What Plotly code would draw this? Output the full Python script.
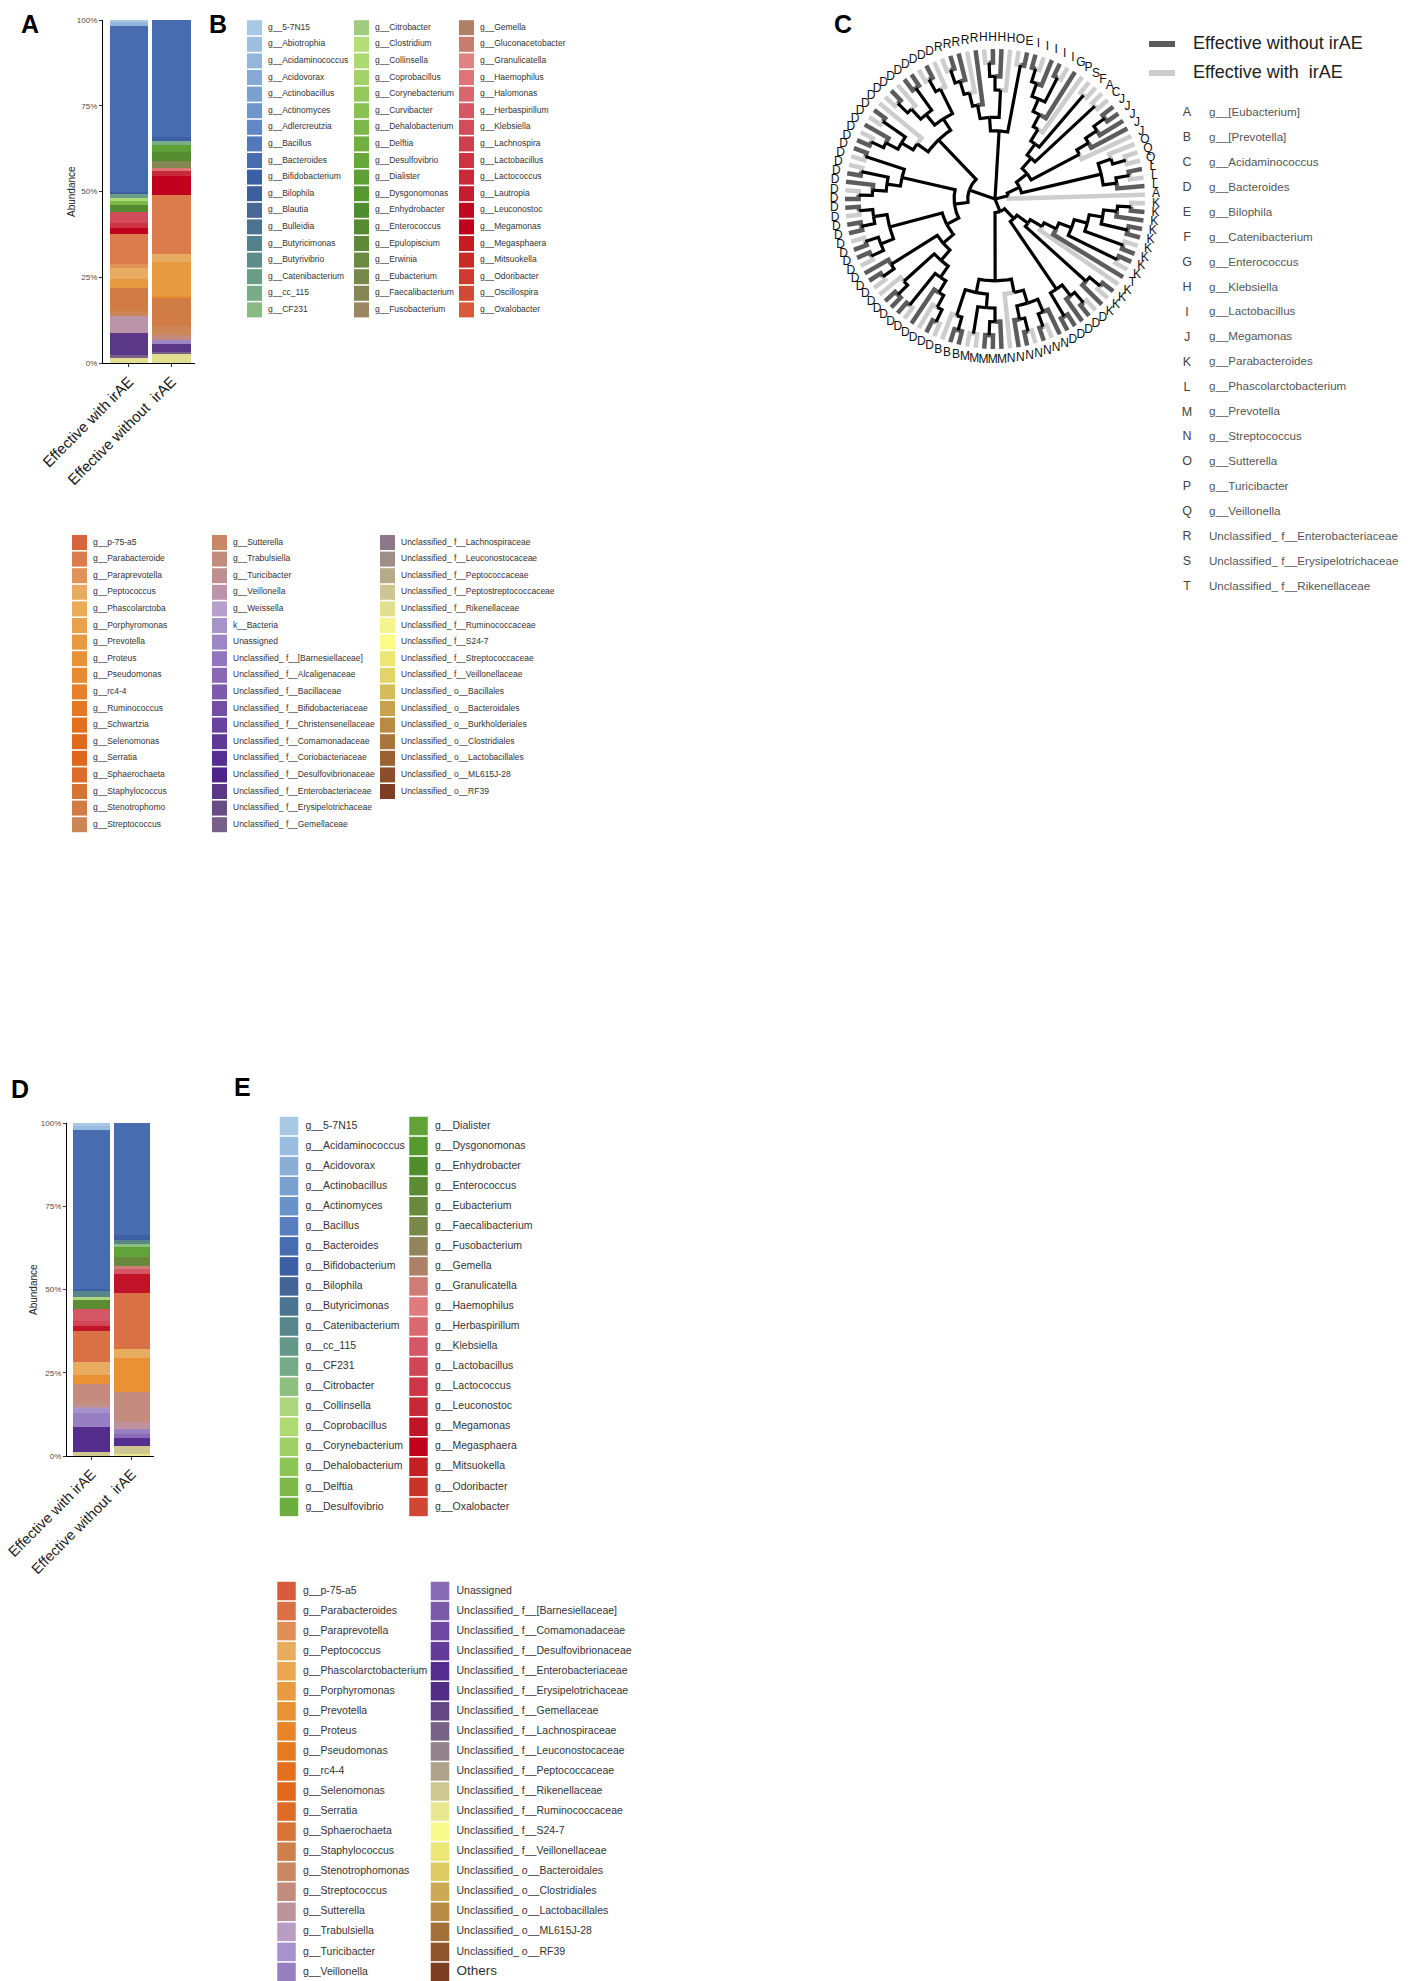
import math
import plotly.graph_objects as go

# the page puts an 8px body margin around the figure; positions below are page pixels
PAGE_W, PAGE_H, OFF = 1417, 1981, 8
W, H = PAGE_W - OFF, PAGE_H - OFF
FONT = "Liberation Sans, Arial, sans-serif"

groups = ["Effective with irAE", "Effective without\u00a0 irAE"]

# ---- panel B legend (order used by the stacked bars in panel A)
taxa_b_upper = [
    "g__5-7N15", "g__Abiotrophia", "g__Acidaminococcus", "g__Acidovorax", "g__Actinobacillus",
    "g__Actinomyces", "g__Adlercreutzia", "g__Bacillus", "g__Bacteroides", "g__Bifidobacterium",
    "g__Bilophila", "g__Blautia", "g__Bulleidia", "g__Butyricimonas", "g__Butyrivibrio",
    "g__Catenibacterium", "g__cc_115", "g__CF231",
    "g__Citrobacter", "g__Clostridium", "g__Collinsella", "g__Coprobacillus", "g__Corynebacterium",
    "g__Curvibacter", "g__Dehalobacterium", "g__Delftia", "g__Desulfovibrio", "g__Dialister",
    "g__Dysgonomonas", "g__Enhydrobacter", "g__Enterococcus", "g__Epulopiscium", "g__Erwinia",
    "g__Eubacterium", "g__Faecalibacterium", "g__Fusobacterium",
    "g__Gemella", "g__Gluconacetobacter", "g__Granulicatella", "g__Haemophilus", "g__Halomonas",
    "g__Herbaspirillum", "g__Klebsiella", "g__Lachnospira", "g__Lactobacillus", "g__Lactococcus",
    "g__Lautropia", "g__Leuconostoc", "g__Megamonas", "g__Megasphaera", "g__Mitsuokella",
    "g__Odoribacter", "g__Oscillospira", "g__Oxalobacter",
]
taxa_b_lower = [
    "g__p-75-a5", "g__Parabacteroide", "g__Paraprevotella", "g__Peptococcus", "g__Phascolarctoba",
    "g__Porphyromonas", "g__Prevotella", "g__Proteus", "g__Pseudomonas", "g__rc4-4",
    "g__Ruminococcus", "g__Schwartzia", "g__Selenomonas", "g__Serratia", "g__Sphaerochaeta",
    "g__Staphylococcus", "g__Stenotrophomo", "g__Streptococcus",
    "g__Sutterella", "g__Trabulsiella", "g__Turicibacter", "g__Veillonella", "g__Weissella",
    "k__Bacteria", "Unassigned", "Unclassified_ f__[Barnesiellaceae]", "Unclassified_ f__Alcaligenaceae",
    "Unclassified_ f__Bacillaceae", "Unclassified_ f__Bifidobacteriaceae",
    "Unclassified_ f__Christensenellaceae", "Unclassified_ f__Comamonadaceae",
    "Unclassified_ f__Coriobacteriaceae", "Unclassified_ f__Desulfovibrionaceae",
    "Unclassified_ f__Enterobacteriaceae", "Unclassified_ f__Erysipelotrichaceae",
    "Unclassified_ f__Gemellaceae",
    "Unclassified_ f__Lachnospiraceae", "Unclassified_ f__Leuconostocaceae",
    "Unclassified_ f__Peptococcaceae", "Unclassified_ f__Peptostreptococcaceae",
    "Unclassified_ f__Rikenellaceae", "Unclassified_ f__Ruminococcaceae", "Unclassified_ f__S24-7",
    "Unclassified_ f__Streptococcaceae", "Unclassified_ f__Veillonellaceae",
    "Unclassified_ o__Bacillales", "Unclassified_ o__Bacteroidales", "Unclassified_ o__Burkholderiales",
    "Unclassified_ o__Clostridiales", "Unclassified_ o__Lactobacillales", "Unclassified_ o__ML615J-28",
    "Unclassified_ o__RF39",
]
palette_b = [
    "#a8c8e4", "#9dbfe0", "#94b6db", "#86aad4", "#7aa0d0", "#6d96cb", "#5f88c4", "#5479bb", "#486cb0",
    "#3c60a6", "#3d5f9c", "#466892", "#4c7390", "#54828c", "#5e8e8a", "#6a9c88", "#78ab86", "#88bb82",
    "#a0cc7e", "#b5dd7a", "#acda72", "#a2d268", "#94ca5c", "#88c252", "#7cb84a", "#70b042", "#66a83c",
    "#5ea036", "#569830", "#4e8e2c", "#568c30", "#5e8a36", "#6a8a3e", "#768948", "#868654", "#9a8660",
    "#ae8068", "#c87c70", "#e08284", "#de7478", "#da6670", "#d65866", "#d24c5c", "#ce4050", "#cc3444",
    "#c82a3a", "#c41e30", "#c00a22", "#c0001c", "#c41c22", "#c82a26", "#ce3a2c", "#d24a34", "#d85a3a",
    "#d8643e", "#dc7c4c", "#e09258", "#e8ac60", "#eaaa56", "#eaa24a", "#e89a40", "#e89236", "#e88a2e",
    "#e88028", "#e67822", "#e4701e", "#e2681a", "#e0661c", "#dc6c28", "#d67434", "#d07c44", "#cc8656",
    "#c88866", "#c48c7c", "#c09090", "#bc94aa", "#b8a0cc", "#a894cc", "#9c86c6", "#9076bc", "#8868b4",
    "#7e5aac", "#744ea4", "#6a42a0", "#603898", "#562e90", "#4e2488", "#5a3886", "#684c86", "#786088",
    "#8c7888", "#a08e88", "#b6aa88", "#cdc690", "#e2e090", "#f4f490", "#fcfc8a", "#ece676", "#e2d468",
    "#d6bc5c", "#c8a050", "#b88a44", "#a8763c", "#9a6232", "#8c4e2a", "#7e3e22",
]

# ---- panel A abundance (%)
taxa_a = [
    "g__5-7N15", "g__Acidaminococcus", "g__Bacteroides", "g__Bifidobacterium", "g__Bilophila",
    "g__Catenibacterium", "g__cc_115", "g__Collinsella", "g__Dehalobacterium", "g__Dialister",
    "g__Enterococcus", "g__Faecalibacterium", "g__Haemophilus", "g__Klebsiella", "g__Lactobacillus",
    "g__Lactococcus", "g__Megamonas", "g__Parabacteroide", "g__Paraprevotella", "g__Peptococcus",
    "g__Prevotella", "g__Pseudomonas", "g__Stenotrophomo", "g__Streptococcus", "g__Trabulsiella",
    "g__Veillonella", "Unassigned", "Unclassified_ f__Enterobacteriaceae", "Unclassified_ f__Gemellaceae",
    "Unclassified_ f__Rikenellaceae",
]
a_with = [0.6, 1.15, 48.35, 0, 0.7, 1.2, 0, 0.8, 1.0, 0, 2.1, 0, 0, 3.4, 1.4, 0, 1.8, 8.7, 1.0, 3.2,
          2.6, 0, 6.8, 1.5, 0, 4.9, 0, 6.6, 0.7, 1.5]
a_without = [0, 0, 34.1, 1.3, 0, 0, 1.0, 0, 0, 2.2, 2.6, 1.9, 1.0, 0, 0, 1.3, 5.5, 17.2, 0, 2.4,
             10.0, 0.5, 8.3, 2.4, 1.5, 0, 1.2, 2.4, 0.3, 2.9]

# ---- panel E legend
taxa_e_upper = [
    "g__5-7N15", "g__Acidaminococcus", "g__Acidovorax", "g__Actinobacillus", "g__Actinomyces",
    "g__Bacillus", "g__Bacteroides", "g__Bifidobacterium", "g__Bilophila", "g__Butyricimonas",
    "g__Catenibacterium", "g__cc_115", "g__CF231", "g__Citrobacter", "g__Collinsella",
    "g__Coprobacillus", "g__Corynebacterium", "g__Dehalobacterium", "g__Delftia", "g__Desulfovibrio",
    "g__Dialister", "g__Dysgonomonas", "g__Enhydrobacter", "g__Enterococcus", "g__Eubacterium",
    "g__Faecalibacterium", "g__Fusobacterium", "g__Gemella", "g__Granulicatella", "g__Haemophilus",
    "g__Herbaspirillum", "g__Klebsiella", "g__Lactobacillus", "g__Lactococcus", "g__Leuconostoc",
    "g__Megamonas", "g__Megasphaera", "g__Mitsuokella", "g__Odoribacter", "g__Oxalobacter",
]
taxa_e_lower = [
    "g__p-75-a5", "g__Parabacteroides", "g__Paraprevotella", "g__Peptococcus",
    "g__Phascolarctobacterium", "g__Porphyromonas", "g__Prevotella", "g__Proteus", "g__Pseudomonas",
    "g__rc4-4", "g__Selenomonas", "g__Serratia", "g__Sphaerochaeta", "g__Staphylococcus",
    "g__Stenotrophomonas", "g__Streptococcus", "g__Sutterella", "g__Trabulsiella", "g__Turicibacter",
    "g__Veillonella",
    "Unassigned", "Unclassified_ f__[Barnesiellaceae]", "Unclassified_ f__Comamonadaceae",
    "Unclassified_ f__Desulfovibrionaceae", "Unclassified_ f__Enterobacteriaceae",
    "Unclassified_ f__Erysipelotrichaceae", "Unclassified_ f__Gemellaceae",
    "Unclassified_ f__Lachnospiraceae", "Unclassified_ f__Leuconostocaceae",
    "Unclassified_ f__Peptococcaceae", "Unclassified_ f__Rikenellaceae",
    "Unclassified_ f__Ruminococcaceae", "Unclassified_ f__S24-7", "Unclassified_ f__Veillonellaceae",
    "Unclassified_ o__Bacteroidales", "Unclassified_ o__Clostridiales",
    "Unclassified_ o__Lactobacillales", "Unclassified_ o__ML615J-28", "Unclassified_ o__RF39", "Others",
]

# ---- panel D abundance (%)
taxa_d = [
    "g__5-7N15", "g__Acidaminococcus", "g__Bacteroides", "g__Bifidobacterium", "g__Catenibacterium",
    "g__Citrobacter", "g__Collinsella", "g__Dialister", "g__Enterococcus", "g__Eubacterium",
    "g__Granulicatella", "g__Klebsiella", "g__Lactobacillus", "g__Megamonas", "g__Parabacteroides",
    "g__Peptococcus", "g__Prevotella", "g__Streptococcus", "g__Sutterella", "g__Turicibacter",
    "g__Veillonella", "Unassigned", "Unclassified_ f__Enterobacteriaceae",
    "Unclassified_ f__Rikenellaceae", "Unclassified_ f__Ruminococcaceae",
]
d_with = [1.0, 1.0, 47.7, 0.8, 1.7, 0, 1.0, 0, 2.8, 0, 0, 3.4, 1.6, 1.4, 9.3, 4.0, 2.7, 6.3, 1.0,
          1.5, 4.0, 0, 7.5, 1.3, 0]
d_without = [0, 0, 33.7, 1.5, 1.2, 0.8, 0, 3.0, 0, 2.8, 0.7, 1.7, 0, 5.6, 17.0, 2.7, 10.0, 9.0, 2.3,
             0, 1.4, 1.3, 2.3, 2.4, 0.6]

# ---- panel C: tree (tips = letter + d/l for without/with irAE), legend
tree_letters = list("ABCDEFGHIJKLMNOPQRST")
tree_names = [
    "g__[Eubacterium]", "g__[Prevotella]", "g__Acidaminococcus", "g__Bacteroides", "g__Bilophila",
    "g__Catenibacterium", "g__Enterococcus", "g__Klebsiella", "g__Lactobacillus", "g__Megamonas",
    "g__Parabacteroides", "g__Phascolarctobacterium", "g__Prevotella", "g__Streptococcus",
    "g__Sutterella", "g__Turicibacter", "g__Veillonella", "Unclassified_ f__Enterobacteriaceae",
    "Unclassified_ f__Erysipelotrichaceae", "Unclassified_ f__Rikenellaceae",
]
tree_groups = ["Effective without irAE", "Effective with\u00a0 irAE"]

clade_ur = ["Al", [[["Ld", ["Ll", "Ld"]], [["Ql", "Ql"], "Ol"]],
                   [["Jl", ["Jd", ["Jd", ["Jd", "Jd"]]]],
                    [["Cl", "Al"], [["Fl", "Sl"], ["Pl", ["Gd", [["Il", "Id"], ["Id", ["Il", "Id"]]]]]]]]]]
clade_top = [["Ed", "Ol"], [["Hl", ["Hd", ["Hd", "Hl"]]], ["Rd", ["Rl", ["Rd", ["Rd", "Rl"]]]]]]
clade_d1 = [["Dl", ["Dd", "Dl"]], [["Dd", "Dd"], ["Dl", ["Dd", "Dl"]]]]
clade_d2 = ["Dl", [["Dd", "Dl"], ["Dd", ["Dl", "Dd"]]]]
clade_d3 = [["Dd", "Dl"], [["Dl", "Dd"], ["Dd", ["Dl", "Dd"]]]]
clade_d4 = [[["Dd", "Dl"], ["Dd", "Dd"]], [["Dl", "Dd"], ["Dd", "Dl"]]]
clade_d5 = [["Dd", ["Dd", "Dl"]], [["Dl", ["Dd", "Dd"]], [["Dd", "Dl"], ["Dd", ["Dl", ["Dd", "Dl"]]]]]]
clade_bm = [["Bl", ["Bd", "Bd"]], [["Ml", "Ml"], [["Md", "Md"], "Md"]]]
clade_n = ["Nl", [["Nd", ["Nd", "Nl"]], [["Nd", "Nl"], "Nd"]]]
clade_db = [["Dd", "Dd"], ["Dd", ["Dd", "Dl"]]]
clade_k = [["Kd", ["Kl", "Kd"]], ["Kl", ["Td", [["Kl", "Kd"], [["Kd", "Kl"], [["Kd", "Kd"], ["Kd", ["Kd", "Kl"]]]]]]]]
tree = [clade_ur, clade_top, [[clade_d1, clade_d2], [clade_d3, [clade_d4, clade_d5]]],
        [[clade_bm, clade_n], [clade_db, clade_k]]]


def px(x):
    return (x - OFF) / W


def py(y):
    return 1 - (y - OFF) / H


def hex_rgb(h):
    return tuple(int(h[i:i + 2], 16) for i in (1, 3, 5))


def resample(colors, n):
    out = []
    for i in range(n):
        t = i * (len(colors) - 1) / (n - 1)
        j = min(int(t), len(colors) - 2)
        f = t - j
        c0, c1 = hex_rgb(colors[j]), hex_rgb(colors[j + 1])
        out.append("rgb(%d,%d,%d)" % tuple(round(a + (b - a) * f) for a, b in zip(c0, c1)))
    return out


names_b = taxa_b_upper + taxa_b_lower
names_e = taxa_e_upper + taxa_e_lower
palette_e = resample(palette_b, len(names_e))
col_b = dict(zip(names_b, palette_b))
col_e = dict(zip(names_e, palette_e))

fig = go.Figure()


def add_bars(taxa, v1, v2, cmap, xa, ya):
    # ggplot stacks the first level on top -> add in reverse
    for name, a, b in reversed(list(zip(taxa, v1, v2))):
        fig.add_trace(go.Bar(x=groups, y=[a, b], name=name, width=0.9,
                             marker=dict(color=cmap[name], line=dict(width=0)),
                             xaxis=xa, yaxis=ya, hoverinfo="name+y"))


add_bars(taxa_a, a_with, a_without, col_b, "x", "y")
add_bars(taxa_d, d_with, d_without, col_e, "x2", "y2")

# ---- tree layout (cladogram, circular)
def collect(node, out):
    if isinstance(node, str):
        out.append(node)
    else:
        for c in node:
            collect(c, out)
    return out


def height(node):
    return 0 if isinstance(node, str) else 1 + max(height(c) for c in node)


tips = collect(tree, [])
n_tips = len(tips)
depth = height(tree)
R_TIP, R_LABEL = 150, 161
edges = {"light": ([], []), "dark": ([], []), "black": ([], [])}
counter = [0]


def place(node):
    if isinstance(node, str):
        i = counter[0]
        counter[0] += 1
        return depth, (i + 0.5) * 2 * math.pi / n_tips
    kids = [place(c) for c in node]
    x = min(k[0] for k in kids) - 1
    ang = sum(k[1] for k in kids) / len(kids)
    r0 = x / depth * R_TIP
    for c, (kx, ka) in zip(node, kids):
        key = "black" if not isinstance(c, str) else ("dark" if c[1] == "d" else "light")
        r1 = kx / depth * R_TIP
        n = max(2, int(abs(ka - ang) / math.radians(1)) + 2)
        xs, ys = edges[key]
        for j in range(n):
            a = ang + (ka - ang) * j / (n - 1)
            xs.append(r0 * math.cos(a))
            ys.append(r0 * math.sin(a))
        xs += [r1 * math.cos(ka), None]
        ys += [r1 * math.sin(ka), None]
    return x, ang


place(tree)
edge_style = {"light": ("#cdcdcd", 4.5), "dark": ("#5c5c5c", 4.5), "black": ("#000000", 3.2)}
for key in ["light", "dark", "black"]:
    xs, ys = edges[key]
    fig.add_trace(go.Scatter(x=xs, y=ys, mode="lines", xaxis="x3", yaxis="y3", hoverinfo="skip",
                             line=dict(color=edge_style[key][0], width=edge_style[key][1])))

tip_ang = [(i + 0.5) * 2 * math.pi / n_tips for i in range(n_tips)]
fig.add_trace(go.Scatter(x=[R_LABEL * math.cos(a) for a in tip_ang],
                         y=[R_LABEL * math.sin(a) for a in tip_ang],
                         mode="text", text=[t[0] for t in tips], textposition="middle center",
                         textfont=dict(size=12, color="#111111", family=FONT),
                         xaxis="x3", yaxis="y3", hoverinfo="skip", cliponaxis=False))

# ---- legends drawn on a page-pixel overlay axis
def legend_block(names, colors, col_x, y0, dy, per_col, size, text_dx, font_size):
    xs = [col_x[k // per_col] for k in range(len(names))]
    ys = [y0 + (k % per_col) * dy for k in range(len(names))]
    fig.add_trace(go.Scatter(x=xs, y=ys, mode="markers", xaxis="x4", yaxis="y4", hoverinfo="skip",
                             marker=dict(symbol="square", size=size, color=colors, line=dict(width=0))))
    fig.add_trace(go.Scatter(x=[x + text_dx for x in xs], y=ys, mode="text", text=names,
                             textposition="middle right", xaxis="x4", yaxis="y4", hoverinfo="skip",
                             cliponaxis=False,
                             textfont=dict(size=font_size, color="#333333", family=FONT)))


legend_block(taxa_b_upper, palette_b[:54], [254.5, 361.5, 466.5], 27.7, 16.6, 18, 15, 13.5, 8.5)
legend_block(taxa_b_lower, palette_b[54:], [79.5, 219.5, 387.5], 542.5, 16.6, 18, 15, 13.5, 8.5)
legend_block(taxa_e_upper, palette_e[:40], [289, 418.5], 1126, 20.05, 20, 18.5, 16.5, 10.5)
legend_block(taxa_e_lower, palette_e[40:], [286.5, 440], 1591, 20.05, 20, 18.5, 16.5,
             [10.5] * 39 + [13.5])

# tree group legend
for k, (lab, key) in enumerate(zip(tree_groups, ["dark", "light"])):
    yy = 44 + k * 29
    fig.add_trace(go.Scatter(x=[1149, 1175], y=[yy, yy], mode="lines", xaxis="x4", yaxis="y4",
                             hoverinfo="skip", line=dict(color=edge_style[key][0], width=6)))
    fig.add_trace(go.Scatter(x=[1193], y=[yy], mode="text", text=[lab], textposition="middle right",
                             xaxis="x4", yaxis="y4", hoverinfo="skip", cliponaxis=False,
                             textfont=dict(size=18, color="#222222", family=FONT)))

row_y = [113 + 24.95 * k for k in range(len(tree_letters))]
fig.add_trace(go.Scatter(x=[1187] * len(row_y), y=row_y, mode="text", text=tree_letters,
                         textposition="middle center", xaxis="x4", yaxis="y4", hoverinfo="skip",
                         textfont=dict(size=12.5, color="#444444", family=FONT)))
fig.add_trace(go.Scatter(x=[1209] * len(row_y), y=row_y, mode="text", text=tree_names,
                         textposition="middle right", xaxis="x4", yaxis="y4", hoverinfo="skip",
                         cliponaxis=False, textfont=dict(size=11.6, color="#555555", family=FONT)))

# ---- axes
def bar_axes(x0, x1, top, bottom, cat_font):
    xa = dict(domain=[px(x0), px(x1)], type="category", range=[-0.61, 1.55], tickangle=-45,
              tickfont=dict(size=cat_font, color="#1a1a1a", family=FONT), ticks="outside", ticklen=3,
              tickcolor="#333333", showline=True, linecolor="#000000", linewidth=1.3,
              showgrid=False, zeroline=False, fixedrange=True, automargin=False)
    ya = dict(domain=[py(bottom), py(top)], range=[0, 100], tickmode="array",
              tickvals=[0, 25, 50, 75, 100], ticktext=["0%", "25%", "50%", "75%", "100%"],
              tickfont=dict(size=8, color="#4d4d4d", family=FONT), ticks="outside",
              ticklen=3, tickcolor="#333333", showline=True, linecolor="#000000", linewidth=1.3,
              showgrid=False, zeroline=False, fixedrange=True, automargin=False)
    return xa, ya


xa1, ya1 = bar_axes(103, 195, 20, 363, 15)
xa2, ya2 = bar_axes(67, 154, 1123, 1456, 14.5)
ya1["anchor"] = "x"
xa1["anchor"] = "y"
xa2["anchor"] = "y2"
ya2["anchor"] = "x2"

hidden = dict(visible=False, showgrid=False, zeroline=False, fixedrange=True, automargin=False)
fig.update_layout(
    width=W, height=H, margin=dict(l=0, r=0, t=0, b=0, autoexpand=False),
    paper_bgcolor="white", plot_bgcolor="rgba(0,0,0,0)",
    font=dict(family=FONT, color="#222222"),
    barmode="stack", showlegend=False,
    xaxis=xa1, yaxis=ya1, xaxis2=xa2, yaxis2=ya2,
    xaxis3=dict(domain=[px(825), px(1165)], range=[-170, 170], anchor="y3", **hidden),
    yaxis3=dict(domain=[py(369), py(29)], range=[-170, 170], anchor="x3", **hidden),
    xaxis4=dict(domain=[0, 1], range=[OFF, OFF + W], anchor="y4", **hidden),
    yaxis4=dict(domain=[0, 1], range=[OFF + H, OFF], anchor="x4", **hidden),
)

# panel letters and y titles
for lab, x, y in [("A", 30, 24), ("B", 218, 24), ("C", 843, 24), ("D", 20, 1089), ("E", 243, 1087)]:
    fig.add_annotation(text="<b>%s</b>" % lab, x=px(x), y=py(y), xref="paper", yref="paper",
                       xanchor="center", yanchor="middle", showarrow=False,
                       font=dict(size=25, color="#000000", family=FONT))
for x, y in [(72, 192), (33, 1290)]:
    fig.add_annotation(text="Abundance", x=px(x), y=py(y), xref="paper", yref="paper",
                       xanchor="center", yanchor="middle", showarrow=False, textangle=-90,
                       font=dict(size=10, color="#222222", family=FONT))

fig.write_html("out.html")
